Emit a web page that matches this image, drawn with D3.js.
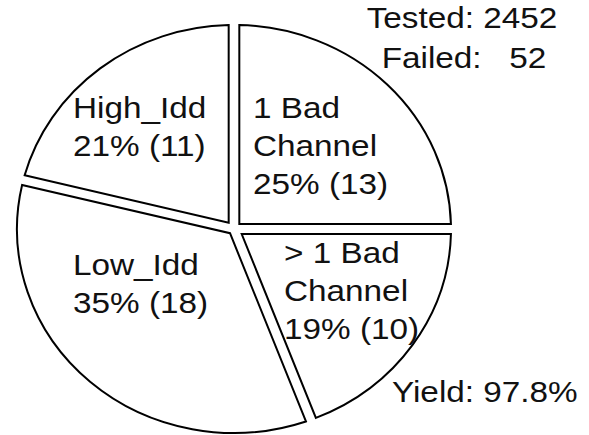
<!DOCTYPE html>
<html>
<head>
<meta charset="utf-8">
<script src="https://cdn.jsdelivr.net/npm/d3@7"></script>
<style>
  html, body { margin: 0; padding: 0; background: #fff; }
  svg { display: block; }
  text { font-family: "Liberation Sans", Arial, Helvetica, sans-serif; fill: #111; }
</style>
</head>
<body>
<svg id="chart" width="589" height="435"></svg>
<script>
// failure categories, clockwise from 12 o'clock
var categories = ["1 Bad Channel", "> 1 Bad Channel", "Low_Idd", "High_Idd"];
var labelLines = [["1 Bad", "Channel"], ["> 1 Bad", "Channel"], ["Low_Idd"], ["High_Idd"]];
var failCounts = [13, 10, 18, 11];
var tested = 2452;

// layout (not data)
var cx = 234, cy = 229;
var radius = 204;
var stretch = 217 / 204;   // the original plot is a bit wider than tall
var textStretch = 1.11;
var gap = 10;
var labelAnchors = [[253, 118], [284, 263], [73, 275], [73, 118]];
var lineStep = 38;
var fontSize = 30;

var svg = d3.select("#chart");
var failed = d3.sum(failCounts);
var slices = categories.map(function (c, i) {
    return { name: c, lines: labelLines[i], count: failCounts[i] };
});

var pie = d3.pie()
    .sort(null)
    .value(function (d) { return d.count; });

// inner radius per slice puts the apex where both padded edges meet,
// so the gaps stay a constant width
var arc = d3.arc()
    .outerRadius(radius)
    .innerRadius(function (d) {
        return (gap / 2) / Math.sin((d.endAngle - d.startAngle) / 2);
    })
    .padRadius(radius)
    .padAngle(2 * Math.asin(gap / 2 / radius));

var g = svg.append("g")
    .attr("transform", "translate(" + cx + "," + cy + ") scale(" + stretch + ",1)");

g.selectAll("path.slice")
    .data(pie(slices))
    .enter().append("path")
    .attr("class", "slice")
    .attr("d", arc)
    .attr("fill", "#fff")
    .attr("stroke", "#000")
    .attr("stroke-width", 2)
    .attr("stroke-linejoin", "miter")
    .attr("vector-effect", "non-scaling-stroke");

function addText(x, y, str, anchor) {
    return svg.append("text")
        .attr("transform", "translate(" + x + "," + y + ") scale(" + textStretch + ",1)")
        .attr("text-anchor", anchor || "start")
        .attr("font-size", fontSize)
        .style("white-space", "pre")
        .text(str);
}

slices.forEach(function (d, i) {
    var pct = Math.round(d.count / failed * 100);
    var lines = d.lines.concat([pct + "% (" + d.count + ")"]);
    lines.forEach(function (line, j) {
        addText(labelAnchors[i][0], labelAnchors[i][1] + j * lineStep, line);
    });
});

var yieldPct = Math.floor((1 - failed / tested) * 1000) / 10;
addText(462, 28, "Tested: " + tested, "middle");
addText(464, 68, "Failed:   " + failed, "middle");
addText(392, 402, "Yield: " + yieldPct.toFixed(1) + "%");
</script>
</body>
</html>
